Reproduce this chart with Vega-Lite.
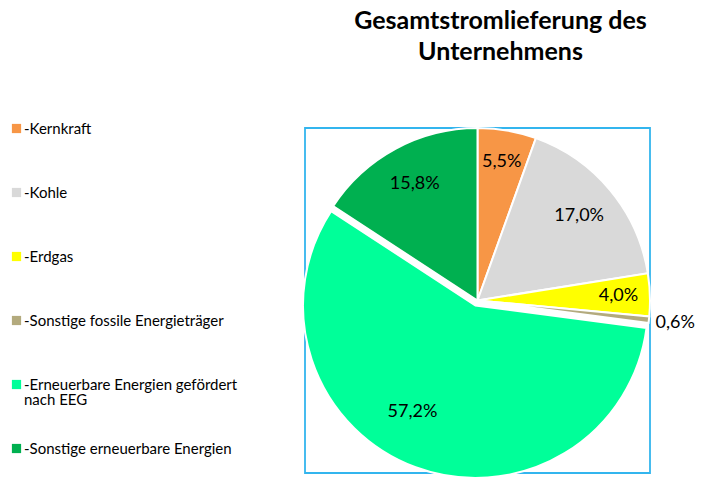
{
  "$schema": "https://vega.github.io/schema/vega-lite/v6.json",
  "autosize": "none",
  "width": 345,
  "height": 345,
  "padding": {"left": 305, "top": 128, "right": 52, "bottom": 5},
  "background": "white",
  "view": {"stroke": "#33B5EE", "strokeWidth": 1.8},
  "title": {
    "text": ["Gesamtstromlieferung des", "Unternehmens"],
    "font": "Lato",
    "fontSize": 25,
    "fontWeight": "bold",
    "color": "#000000",
    "anchor": "middle",
    "dx": 23,
    "offset": 30,
    "lineHeight": 31
  },
  "data": {
    "values": [
      {"Energietraeger": "Kernkraft", "Anteil": 5.5, "Label": "5,5%", "Reihenfolge": 1},
      {"Energietraeger": "Kohle", "Anteil": 17.0, "Label": "17,0%", "Reihenfolge": 2},
      {"Energietraeger": "Erdgas", "Anteil": 4.0, "Label": "4,0%", "Reihenfolge": 3},
      {"Energietraeger": "Sonstige fossile Energieträger", "Anteil": 0.6, "Label": "0,6%", "Reihenfolge": 4},
      {"Energietraeger": "Erneuerbare Energien gefördert nach EEG", "Anteil": 57.2, "Label": "57,2%", "Reihenfolge": 5},
      {"Energietraeger": "Sonstige erneuerbare Energien", "Anteil": 15.8, "Label": "15,8%", "Reihenfolge": 6}
    ]
  },
  "encoding": {
    "theta": {"field": "Anteil", "type": "quantitative", "stack": true},
    "order": {"field": "Reihenfolge", "type": "quantitative"}
  },
  "layer": [
    {
      "mark": {"type": "arc", "stroke": "white", "strokeWidth": 2},
      "encoding": {
        "color": {
          "field": "Energietraeger",
          "type": "nominal",
          "scale": {
            "domain": ["Kernkraft", "Kohle", "Erdgas", "Sonstige fossile Energieträger", "Erneuerbare Energien gefördert nach EEG", "Sonstige erneuerbare Energien"],
            "range": ["#F79646", "#D9D9D9", "#FFFF00", "#B3AA7D", "#00FF99", "#00B050"]
          },
          "legend": {
            "orient": "none",
            "legendX": -296,
            "legendY": -7,
            "title": null,
            "symbolType": "square",
            "symbolSize": 85,
            "symbolStrokeWidth": 0,
            "labelFont": "Lato",
            "labelFontSize": 15,
            "labelColor": "#000000",
            "labelOffset": 0,
            "rowPadding": 33,
            "labelLimit": 300,
            "labelExpr": "datum.label == 'Erneuerbare Energien gefördert nach EEG' ? ['-Erneuerbare Energien gefördert', 'nach EEG'] : ['-' + datum.label, '']"
          }
        },
        "opacity": {
          "condition": {"test": "datum.Energietraeger == 'Erneuerbare Energien gefördert nach EEG'", "value": 0},
          "value": 1
        }
      }
    },
    {
      "mark": {"type": "arc", "stroke": "white", "strokeWidth": 2, "xOffset": -2, "yOffset": 5},
      "encoding": {
        "color": {"field": "Energietraeger", "type": "nominal"},
        "opacity": {
          "condition": {"test": "datum.Energietraeger == 'Erneuerbare Energien gefördert nach EEG'", "value": 1},
          "value": 0
        }
      }
    },
    {
      "mark": {"type": "text", "radius": 141, "font": "Lato", "fontSize": 18, "color": "#000000"},
      "encoding": {
        "text": {
          "condition": {"test": "datum.Energietraeger != 'Kernkraft' && datum.Energietraeger != 'Erdgas'", "value": ""},
          "field": "Label"
        }
      }
    },
    {
      "mark": {"type": "text", "radius": 132, "font": "Lato", "fontSize": 18, "color": "#000000"},
      "encoding": {
        "text": {
          "condition": {"test": "datum.Energietraeger != 'Kohle' && datum.Energietraeger != 'Sonstige erneuerbare Energien'", "value": ""},
          "field": "Label"
        }
      }
    },
    {
      "mark": {"type": "text", "radius": 124, "xOffset": -22, "yOffset": -5, "font": "Lato", "fontSize": 18, "color": "#000000"},
      "encoding": {
        "text": {
          "condition": {"test": "datum.Energietraeger != 'Erneuerbare Energien gefördert nach EEG'", "value": ""},
          "field": "Label"
        }
      }
    },
    {
      "mark": {"type": "text", "radius": 199, "font": "Lato", "fontSize": 18, "color": "#000000"},
      "encoding": {
        "text": {
          "condition": {"test": "datum.Energietraeger != 'Sonstige fossile Energieträger'", "value": ""},
          "field": "Label"
        }
      }
    }
  ],
  "config": {
    "style": {"guide-label": {"lineHeight": 15}}
  }
}
